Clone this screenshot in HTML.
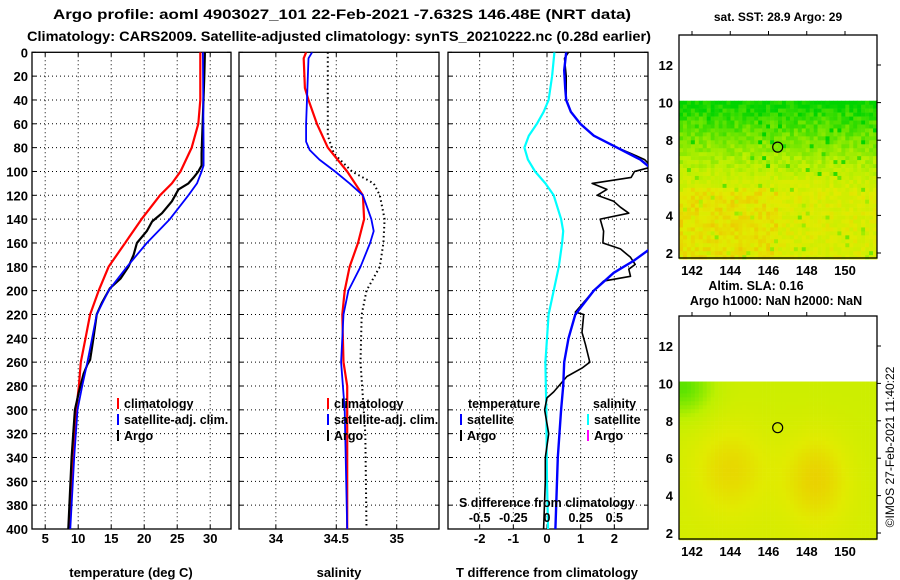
<!DOCTYPE html>
<html><head><meta charset="utf-8"><style>
body{margin:0;background:#fff}
svg{display:block;font-family:"Liberation Sans",sans-serif;font-weight:bold}
</style></head><body>
<svg id="c" width="900" height="580" viewBox="0 0 900 580" xmlns="http://www.w3.org/2000/svg">
<text x="53" y="19" font-size="14" textLength="578" lengthAdjust="spacingAndGlyphs">Argo profile: aoml 4903027_101 22-Feb-2021 -7.632S 146.48E (NRT data)</text>
<text x="27" y="41" font-size="14" textLength="624" lengthAdjust="spacingAndGlyphs">Climatology: CARS2009. Satellite-adjusted climatology: synTS_20210222.nc (0.28d earlier)</text>
<g id="g"></g>
</svg>
<script>
// ---- data ----
const tClimDepth=[0,40,60,80,100,110,120,140,160,180,200,220,240,260,280,300,340,400];
const tClim=[28.5,28.5,28.2,27.2,25.5,24.2,22.4,19.6,17.1,14.6,13.1,11.8,11.1,10.4,10.1,9.7,9.3,8.7];
const tSatDepth=[0,80,95,100,110,120,140,160,180,200,220,240,260,280,300,340,400];
const tSat=[28.9,29.0,29.0,28.7,28.0,26.7,23.9,20.4,17.4,14.6,12.8,12.1,11.4,10.6,9.9,9.4,8.8];
const tArgoDepth=[0,20,85,95,100,105,110,115,125,135,142,150,160,170,180,190,198,210,220,240,258,262,270,285,300,340,400];
const tArgo=[29.2,29.1,28.7,28.7,28.2,27.5,26.7,25.2,24.2,22.7,21.2,20.4,18.9,18.4,17.6,16.4,14.8,13.6,12.8,12.3,11.8,11.4,10.8,10.1,9.5,9.0,8.5];
const sClimDepth=[0,5,30,40,60,80,100,120,140,160,180,200,220,260,280,400];
const sClim=[34.25,34.23,34.24,34.27,34.34,34.43,34.59,34.72,34.73,34.68,34.61,34.57,34.55,34.56,34.59,34.59];
const sSatDepth=[0,5,60,75,82,90,100,110,120,140,150,160,180,200,220,260,300,400];
const sSat=[34.30,34.27,34.25,34.25,34.28,34.36,34.49,34.61,34.72,34.79,34.81,34.78,34.70,34.60,34.56,34.54,34.57,34.59];
const sArgoDepth=[0,70,85,100,110,120,140,160,180,200,220,260,290,320,400];
const sArgo=[34.43,34.43,34.48,34.63,34.81,34.86,34.90,34.89,34.86,34.75,34.71,34.70,34.72,34.74,34.75];
const dTSatDepth=[0,15,30,40,50,60,70,80,90,100,120,140,160,175,185,200,220,240,260,280,300,340,400];
const dTSat=[0.57,0.51,0.54,0.57,0.71,0.99,1.39,2.08,2.77,3.2,4.3,4.3,3.3,2.57,1.98,1.39,0.84,0.64,0.51,0.48,0.42,0.32,0.25];
const dTArgoDepth=[0,5,20,40,50,60,70,80,85,90,93,97,100,105,110,115,120,125,130,135,140,150,160,165,172,178,182,188,192,200,218,220,235,245,260,265,272,285,290,300,320,340,360,400];
const dTArgo=[0.64,0.52,0.57,0.57,0.71,0.99,1.39,2.08,2.5,2.9,3.0,3.0,2.6,2.5,1.34,1.78,1.49,1.98,2.18,2.43,1.58,1.68,1.66,2.18,2.48,2.62,2.43,2.48,1.68,1.39,0.84,1.09,1.04,1.14,1.27,1.04,0.59,0.2,0.0,-0.07,0.05,-0.05,-0.05,-0.1];
const dSSatDepth=[0,20,40,50,60,70,80,90,100,110,120,140,150,160,180,200,220,260,300,360,400];
const dSSat=[0.055,0.038,0.012,-0.025,-0.075,-0.135,-0.168,-0.142,-0.088,-0.012,0.05,0.105,0.12,0.112,0.088,0.05,0.012,-0.012,-0.005,0,0.008];
const depthTicks=[0,20,40,60,80,100,120,140,160,180,200,220,240,260,280,300,320,340,360,380,400];
const tTicks=[5,10,15,20,25,30];
const sTicks=[34,34.5,35];
const dTTicks=[-2,-1,0,1,2];
const dSTickLabels=["-0.5","-0.25","0","0.25","0.5"];
const dSTicks=[-0.5,-0.25,0,0.25,0.5];
const latTicks=[2,4,6,8,10,12];
const lonTicks=[142,144,146,148,150];

const NS="http://www.w3.org/2000/svg";
const G=document.getElementById('g');
function el(tag,attrs,parent,txt){const e=document.createElementNS(NS,tag);for(const k in attrs)e.setAttribute(k,attrs[k]);if(txt!==undefined)e.textContent=txt;(parent||G).appendChild(e);return e;}

const TOP=52.3,BOT=529;
const yD=d=>TOP+d*(BOT-TOP)/400;
function panel(name,x0,x1,vmin,vmax){return {name,x0,x1,sx:v=>x0+(v-vmin)*(x1-x0)/(vmax-vmin)};}
const P1=panel('temperature',32,231,3.0,33.15);
const P2=panel('salinity',239,439,33.695,35.35);
const P3=panel('tdiff',448,648,-2.94,3.0);
const sxS=v=>P3.sx(v*4);

function frame(P,ticks,labels){
  const g=el('g',{});
  
  
  depthTicks.forEach(d=>{if(d>0&&d<400){const l=el('line',{x1:P.x0,x2:P.x1,y1:yD(d),y2:yD(d),stroke:'#000','stroke-dasharray':'1,3','stroke-width':1},g);}
    el('line',{x1:P.x0,x2:P.x0+4,y1:yD(d),y2:yD(d),stroke:'#000'},g);el('line',{x1:P.x1-4,x2:P.x1,y1:yD(d),y2:yD(d),stroke:'#000'},g);});
  ticks.forEach((t,i)=>{const x=P.sx(t);
    el('line',{x1:x,x2:x,y1:TOP,y2:BOT,stroke:'#000','stroke-dasharray':'1,3'},g);
    el('line',{x1:x,x2:x,y1:BOT-4,y2:BOT,stroke:'#000'},g);el('line',{x1:x,x2:x,y1:TOP,y2:TOP+4,stroke:'#000'},g);
    const tx=el('text',{x:x,y:543,'font-size':13,'text-anchor':'middle'},g,labels[i]);
    });
  el('rect',{x:P.x0,y:TOP,width:P.x1-P.x0,height:BOT-TOP,fill:'none',stroke:'#000','stroke-width':1.3},g);
  return g;
}
frame(P1,tTicks,tTicks.map(String));
frame(P2,sTicks,sTicks.map(String));
frame(P3,dTTicks,dTTicks.map(String));
depthTicks.forEach(d=>{const t=el('text',{x:28,y:yD(d)+5,'font-size':13,'text-anchor':'end'},G,String(d));
  });
[['temperature (deg C)',131,'x-axis-title-temperature'],['salinity',339,'x-axis-title-salinity'],['T difference from climatology',547,'x-axis-title-tdiff']].forEach(a=>{
  const t=el('text',{x:a[1],y:577,'font-size':13,'text-anchor':'middle'},G,a[0]);
  });

const defs=el('defs',{});
[[P1,'c1'],[P2,'c2'],[P3,'c3']].forEach(a=>{const cp=el('clipPath',{id:a[1]},defs);el('rect',{x:a[0].x0,y:TOP,width:a[0].x1-a[0].x0,height:BOT-TOP},cp);});

function line(depths,vals,sx,color,w,clip,name,dash){
  const pts=depths.map((d,i)=>sx(vals[i]).toFixed(1)+','+yD(d).toFixed(1)).join(' ');
  const a={points:pts,fill:'none',stroke:color,'stroke-width':w,'clip-path':'url(#'+clip+')','stroke-linejoin':'round'};
  if(dash)a['stroke-dasharray']=dash;
  const p=el('polyline',a);
  
  
}
line(tClimDepth,tClim,P1.sx,'#f00',2.2,'c1','temp-climatology-line');
line(tArgoDepth,tArgo,P1.sx,'#000',2.2,'c1','temp-argo-line');
line(tSatDepth,tSat,P1.sx,'#00f',1.8,'c1','temp-satellite-line');
line(sArgoDepth,sArgo,P2.sx,'#000',2,'c2','salinity-argo-line','1.5,3');
line(sClimDepth,sClim,P2.sx,'#f00',2.2,'c2','salinity-climatology-line');
line(sSatDepth,sSat,P2.sx,'#00f',1.8,'c2','salinity-satellite-line');
line(dSSatDepth,dSSat,sxS,'#0ff',2.2,'c3','sdiff-satellite-line');
line(dTArgoDepth,dTArgo,P3.sx,'#000',1.6,'c3','tdiff-argo-line');
line(dTSatDepth,dTSat,P3.sx,'#00f',2.4,'c3','tdiff-satellite-line');

function legend(x,y,color,label,name){
  const g=el('g',{});
  el('rect',{x:x,y:y-10,width:2,height:11,fill:color},g);
  el('text',{x:x+7,y:y,'font-size':12.5},g,label);
}
legend(117,408,'#f00','climatology','legend-climatology');
legend(117,424,'#00f','satellite-adj. clim.','legend-satellite-adj');
legend(117,440,'#000','Argo','legend-argo');
legend(327,408,'#f00','climatology','legend-sal-climatology');
legend(327,424,'#00f','satellite-adj. clim.','legend-sal-satellite-adj');
legend(327,440,'#000','Argo','legend-sal-argo');
let t=el('text',{x:468,y:408,'font-size':12.5},G,'temperature');
t=el('text',{x:593,y:408,'font-size':12.5},G,'salinity');
legend(460,424,'#00f','satellite','legend-tdiff-satellite');
legend(460,440,'#000','Argo','legend-tdiff-argo');
legend(587,424,'#0ff','satellite','legend-sdiff-satellite');
legend(587,440,'#f0f','Argo','legend-sdiff-argo');
t=el('text',{x:459,y:507,'font-size':12.5},G,'S difference from climatology');
dSTicks.forEach((v,i)=>{const tt=el('text',{x:sxS(v),y:522,'font-size':12.5,'text-anchor':'middle'},G,dSTickLabels[i]);
  });

// ---- maps ----
const MX0=679,MX1=877;
const lx=lon=>692+(lon-142)*(845-692)/8;
function hsh(i,j,s){let h=(i*374761393+j*668265263+s*1442695041)|0;h=(h^(h>>>13))*1274126177|0;return ((h^(h>>>16))>>>0)/4294967296;}
function lerp(a,b,t){return a.map((v,k)=>Math.round(v+(b[k]-v)*t));}
const cGreen=[0,212,0],cLG=[110,230,0],cYG=[190,240,0],cY=[225,235,0],cO=[240,190,0];
function rampCol(v){
  if(v<0.25)return lerp(cGreen,cLG,v/0.25);
  if(v<0.5)return lerp(cLG,cYG,(v-0.25)/0.25);
  if(v<0.75)return lerp(cYG,cY,(v-0.5)/0.25);
  return lerp(cY,cO,Math.min(1,(v-0.75)/0.25));
}
function map(y0,y1,lat2,lat12,title,name,smooth){
  const ly=lat=>lat2+(lat-2)*(lat12-lat2)/10;
  const g=el('g',{});
  const top=ly(10.1);
  const cw=(MX1-MX0)/50,nr=Math.ceil((y1-top)/cw);
  for(let r=0;r<nr;r++)for(let c=0;c<50;c++){
    const latv=10.1-(r+0.5)*(10.1-1.7)/nr;
    const lon=141.3+(c+0.5)*10.4/50;
    let v;
    if(smooth){
      v=0.6+0.22*Math.exp(-((lon-144)**2)/4-((latv-5.5)**2)/6)+0.25*Math.exp(-((lon-148.5)**2)/3-((latv-5)**2)/6)-0.4*Math.exp(-((lon-141.5)**2)/2.5-((latv-9.8)**2)/2.5)+0.06*(10-latv)/8;
    } else {
      v=Math.min(1,(10.1-latv)/5.0)*0.7+(hsh(r,c,1)-0.5)*0.2;
      if(latv<5.5&&lon<146.5)v+=0.1*(hsh(r,c,3)+0.5);
      if(hsh(r,c,2)>0.96)v-=0.35;
    }
    v=Math.max(0,Math.min(1,v));
    const col=rampCol(v);
    el('rect',{x:(MX0+c*cw).toFixed(2),y:(top+r*cw).toFixed(2),width:(cw+0.3).toFixed(2),height:(cw+0.3).toFixed(2),fill:'rgb('+col+')'},g);
  }
  el('rect',{x:MX0,y:y0,width:MX1-MX0,height:y1-y0,fill:'none',stroke:'#000','stroke-width':1.3},g);
  latTicks.forEach(l=>{const y=ly(l);el('line',{x1:MX1,x2:MX1+4,y1:y,y2:y,stroke:'#000'},g);
    el('text',{x:673,y:y+5,'font-size':13,'text-anchor':'end'},g,String(l));});
  lonTicks.forEach(l=>{const x=lx(l);el('line',{x1:x,x2:x,y1:y0-4,y2:y0,stroke:'#000'},g);
    el('text',{x:x,y:y1+17,'font-size':13,'text-anchor':'middle'},g,String(l));});
  el('circle',{cx:lx(146.48),cy:ly(7.632),r:5,fill:'none',stroke:'#000','stroke-width':1.2},g);
  if(title)el('text',{x:778,y:y0-14,'font-size':12,'text-anchor':'middle'},g,title);
}
map(35,258,253,65,'sat. SST: 28.9 Argo: 29','sst-map',false);
map(316,539,533,346,'','sla-map',true);
t=el('text',{x:756,y:290,'font-size':12.5,'text-anchor':'middle'},G,'Altim. SLA: 0.16');
t=el('text',{x:776,y:305,'font-size':12.5,'text-anchor':'middle'},G,'Argo h1000: NaN h2000: NaN');
t=el('text',{x:0,y:0,'font-size':12,'font-weight':'normal','text-anchor':'middle',transform:'translate(894,447) rotate(-90)'},G,'©IMOS 27-Feb-2021 11:40:22');
</script>
</body></html>
